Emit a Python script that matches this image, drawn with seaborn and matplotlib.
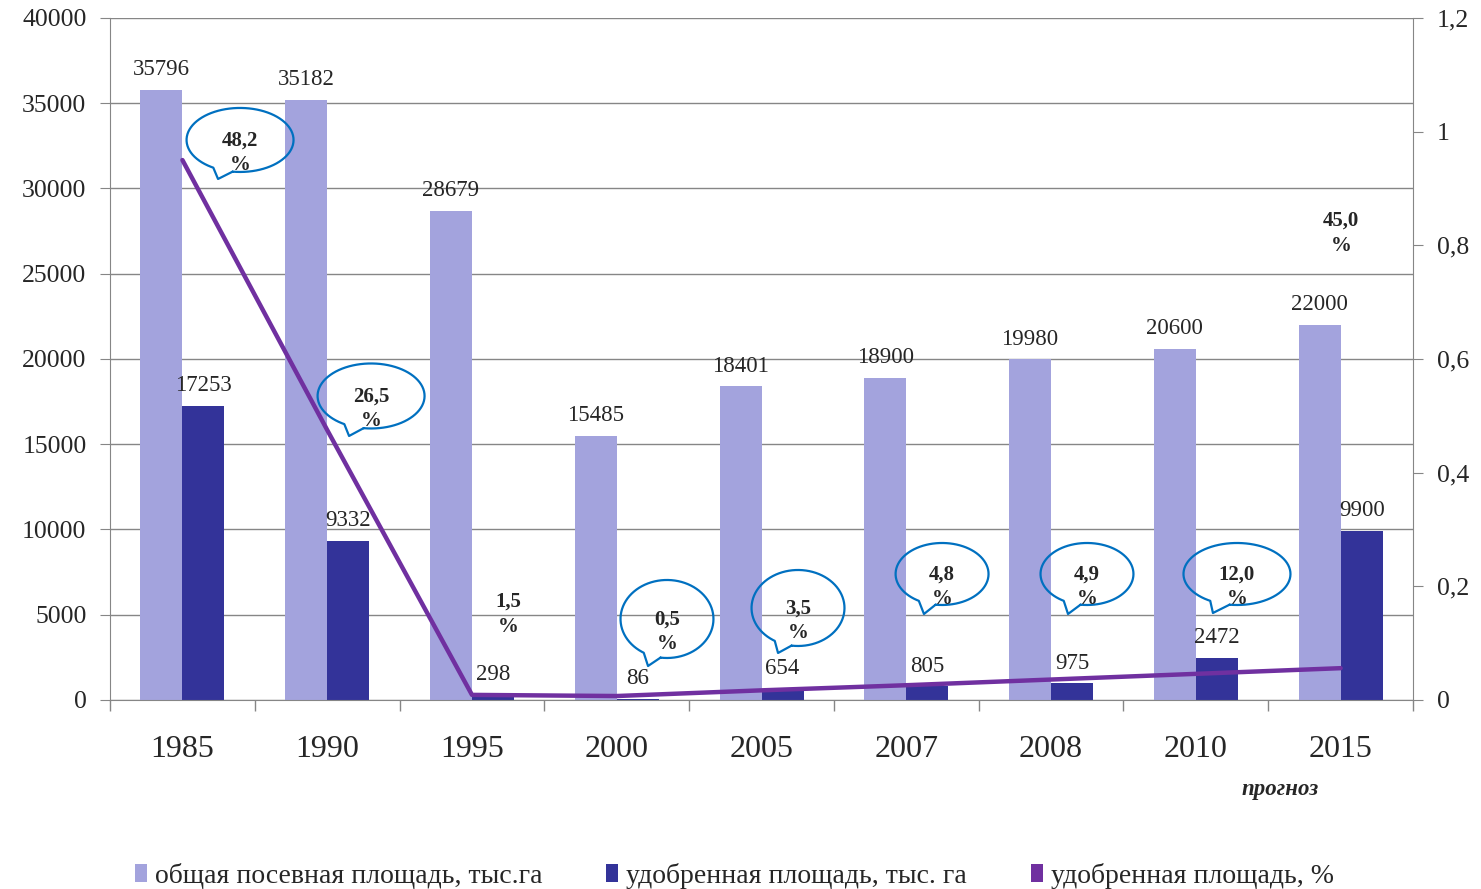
import numpy as np
import pandas as pd
import matplotlib
matplotlib.use("Agg")
import matplotlib.pyplot as plt
import seaborn as sns
from matplotlib.patches import Patch
from matplotlib.ticker import FuncFormatter, MultipleLocator

# ---------------- data ----------------
years = ["1985", "1990", "1995", "2000", "2005", "2007", "2008", "2010", "2015"]
total_area = [35796, 35182, 28679, 15485, 18401, 18900, 19980, 20600, 22000]
fert_area = [17253, 9332, 298, 86, 654, 805, 975, 2472, 9900]
fert_share_line = [0.950, 0.475, 0.009, 0.007, 0.017, 0.026, 0.036, 0.046, 0.056]
share_labels = ["48,2", "26,5", "1,5", "0,5", "3,5", "4,8", "4,9", "12,0", "45,0"]
series_names = ["общая посевная площадь, тыс.га",
                "удобренная площадь, тыс. га",
                "удобренная площадь, %"]
forecast_label = "прогноз"

colors = ["#A3A3DD", "#333399", "#7030A0"]
grid_gray = "#868686"
bubble_blue = "#0070C0"

sns.set_style("white")
plt.rcParams["font.family"] = ["Liberation Serif", "DejaVu Serif"]

df = pd.DataFrame({
    "year": years * 2,
    "value": total_area + fert_area,
    "series": [series_names[0]] * len(years) + [series_names[1]] * len(years),
})

fig = plt.figure(figsize=(14.81, 8.89), dpi=100)
ax = fig.add_axes([0.0743, 0.2126, 0.8798, 0.7672])

sns.barplot(data=df, x="year", y="value", hue="series", order=years,
            hue_order=series_names[:2], palette=colors[:2], width=0.58,
            saturation=1, linewidth=0, errorbar=None, legend=False, ax=ax)

for cont, vals in zip(ax.containers, [total_area, fert_area]):
    ax.bar_label(cont, labels=[str(v) for v in vals], padding=7, fontsize=16.5)

ax.set_xlim(-0.5, len(years) - 0.5)
ax.set_ylim(0, 40000)
ax.yaxis.set_major_locator(MultipleLocator(5000))
ax.yaxis.grid(True, color=grid_gray, lw=1)
ax.set_axisbelow(True)
ax.set_xlabel("")
ax.set_ylabel("")
ax.set_xticks(np.arange(-0.5, len(years), 1), minor=True)
ax.tick_params(axis="x", which="major", length=0, pad=25, labelsize=23)
ax.tick_params(axis="x", which="minor", bottom=True, length=8, color=grid_gray, width=1)
ax.tick_params(axis="y", left=True, length=7, color=grid_gray, pad=10, labelsize=18.5)
for s in ["left", "bottom"]:
    ax.spines[s].set_color(grid_gray)
ax.spines["top"].set_visible(False)
ax.spines["right"].set_visible(False)

# ---------------- secondary axis line ----------------
ax2 = ax.twinx()
sns.lineplot(x=np.arange(len(years)), y=fert_share_line, ax=ax2,
             color=colors[2], lw=3.2)
ax2.set_ylim(0, 1.2)
ax2.set_xlim(-0.5, len(years) - 0.5)
ax2.yaxis.set_major_locator(MultipleLocator(0.2))
ax2.yaxis.set_major_formatter(FuncFormatter(lambda v, _: ("%g" % round(v, 1)).replace(".", ",")))
ax2.tick_params(axis="y", right=True, length=7, color=grid_gray, pad=10, labelsize=18.5)
ax2.set_ylabel("")
for s in ["top", "left", "bottom"]:
    ax2.spines[s].set_visible(False)
ax2.spines["right"].set_color(grid_gray)

# ---------------- callouts ----------------
# (label index, center x, center y, width, height, tail tip x, tail tip y)
bubbles = [
    (0, 0.398, 32845, 0.739, 3754, 0.246, 30557),
    (1, 1.303, 17830, 0.739, 3812, 1.151, 15484),
    (3, 3.347, 4751, 0.642, 4575, 3.216, 1994),
    (4, 4.252, 5396, 0.642, 4457, 4.114, 2757),
    (5, 5.247, 7390, 0.642, 3636, 5.122, 5044),
    (6, 6.248, 7390, 0.642, 3636, 6.117, 5044),
    (7, 7.284, 7390, 0.739, 3636, 7.118, 5103),
]
for idx, xc, yc, w, h, xt, yt in bubbles:
    t = np.radians(np.linspace(262, 240 + 360, 240))
    xs = xc + w / 2 * np.cos(t)
    ys = yc + h / 2 * np.sin(t)
    xs = np.append(xs, [xt, xs[0]])
    ys = np.append(ys, [yt, ys[0]])
    ax.plot(xs, ys, color=bubble_blue, lw=1.6, zorder=5, clip_on=False)
    ax.text(xc, yc - 750, share_labels[idx] + "\n%", ha="center", va="center",
            fontsize=15, fontweight="bold", linespacing=1.35, zorder=6)

plain = [(2, 2.249, 5044), (8, 8.003, 27390)]
for idx, x, y in plain:
    ax.text(x, y, share_labels[idx] + "\n%", ha="center", va="center",
            fontsize=15, fontweight="bold", linespacing=1.35, zorder=6)

ax.text(7.581, -0.1305, forecast_label, transform=ax.get_xaxis_transform(),
        ha="center", va="center", fontsize=16.5, fontweight="bold", style="italic")

# ---------------- legend ----------------
handles = [Patch(facecolor=c, edgecolor="none") for c in colors]
fig.legend(handles, series_names, loc="center", bbox_to_anchor=(0.496, 0.015),
           ncol=3, frameon=False, fontsize=20, handlelength=0.42, handleheight=0.6,
           handletextpad=0.3, columnspacing=2.3)

fig.savefig("out.png", dpi=100)
